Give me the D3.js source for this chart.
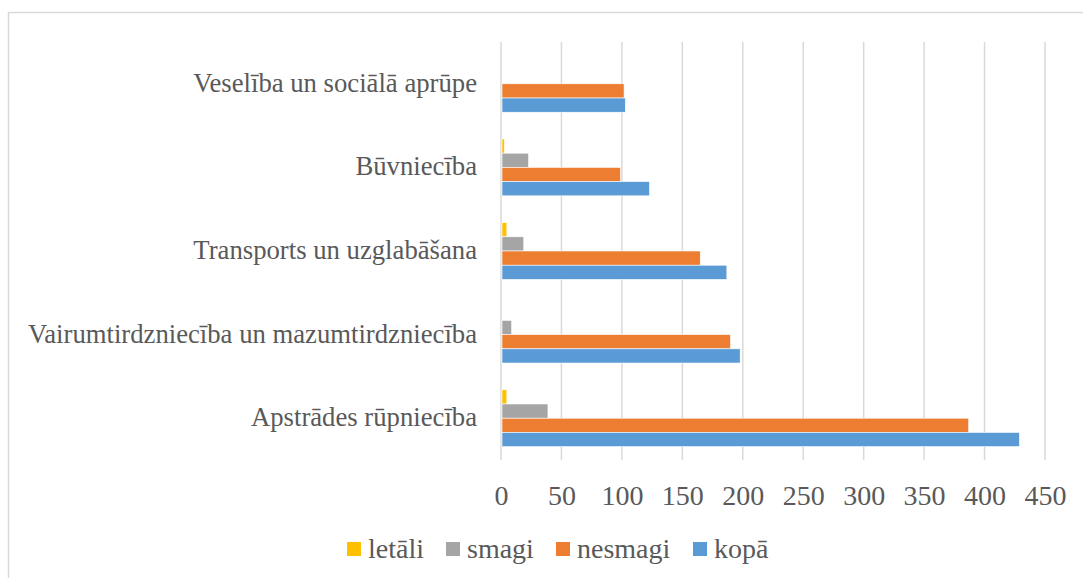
<!DOCTYPE html>
<html>
<head>
<meta charset="utf-8">
<script src="https://cdn.jsdelivr.net/npm/d3@7"></script>
<style>
  body { margin: 0; background: #fff; }
  svg text { font-family: "Liberation Serif", "Times New Roman", serif; fill: #595959; }
</style>
</head>
<body>
<div id="chart"></div>
<script>
// data
let categories = [
    "Veselība un sociālā aprūpe",
    "Būvniecība",
    "Transports un uzglabāšana",
    "Vairumtirdzniecība un mazumtirdzniecība",
    "Apstrādes rūpniecība"
];
let seriesNames = ["letāli", "smagi", "nesmagi", "kopā"];
let seriesColors = ["#FFC000", "#A5A5A5", "#ED7D31", "#5B9BD5"];
let letali = [0, 2, 4, 0, 4];
let smagi = [0, 22, 18, 8, 38];
let nesmagi = [101, 98, 164, 189, 386];
let kopa = [102, 122, 186, 197, 428];
let xTicks = [0, 50, 100, 150, 200, 250, 300, 350, 400, 450];

let width = 1083,
    height = 578;
let serif = "'Liberation Serif', 'Times New Roman', serif";

let svg = d3.select("#chart").append("svg")
    .attr("width", width)
    .attr("height", height);

// outer chart border (runs off the right/bottom edge)
svg.append("rect")
    .attr("x", 8.5)
    .attr("y", 12.5)
    .attr("width", width + 20)
    .attr("height", height + 20)
    .attr("fill", "none")
    .attr("stroke", "#d9d9d9")
    .attr("stroke-width", 1.5);

let seriesValues = [letali, smagi, nesmagi, kopa];

let x = d3.scaleLinear().domain([0, 450]).range([501, 1045]);
let y = d3.scaleBand().domain(categories).range([42, 460])
    .paddingInner(0.32).paddingOuter(0.16);
let ySub = d3.scaleBand().domain(seriesNames).range([0, y.bandwidth()]);

// gridlines
svg.append("g")
    .selectAll("line")
    .data(xTicks)
    .enter().append("line")
    .attr("x1", d => x(d))
    .attr("x2", d => x(d))
    .attr("y1", 42)
    .attr("y2", 460)
    .attr("stroke", "#d9d9d9")
    .attr("stroke-width", 1.5);

// bars
let groups = svg.selectAll(".group")
    .data(categories)
    .enter().append("g")
    .attr("class", "group")
    .attr("transform", d => "translate(0," + y(d) + ")");

groups.selectAll("rect")
    .data((c, i) => seriesNames.map((s, j) => ({series: s, color: seriesColors[j], value: seriesValues[j][i]})))
    .enter().append("rect")
    .attr("x", x(0) + 1)
    .attr("y", d => ySub(d.series))
    .attr("width", d => Math.max(0, x(d.value) - x(0)))
    .attr("height", ySub.bandwidth())
    .attr("fill", d => d.color)
    .attr("stroke", "#fff")
    .attr("stroke-width", 0.6);

// category labels
svg.append("g")
    .selectAll("text")
    .data(categories)
    .enter().append("text")
    .attr("x", 477)
    .attr("y", d => y(d) + y.bandwidth() / 2)
    .attr("dy", "0.3em")
    .attr("text-anchor", "end")
    .style("font-family", serif)
    .style("font-size", "26.7px")
    .text(d => d);

// x tick labels
let xAxis = svg.append("g")
    .attr("transform", "translate(0,460)")
    .call(d3.axisBottom(x).tickValues(xTicks).tickSize(0).tickPadding(25));
xAxis.select(".domain").remove();
xAxis.selectAll("text")
    .style("font-size", "28px")
    .style("font-family", serif)
    .attr("fill", "#595959");

// legend
let legendX = [347, 446, 556, 693];
let legend = svg.append("g")
    .selectAll("g")
    .data(seriesNames)
    .enter().append("g")
    .attr("transform", (d, i) => "translate(" + legendX[i] + ",542)");

legend.append("rect")
    .attr("width", 14)
    .attr("height", 14)
    .attr("fill", (d, i) => seriesColors[i]);

legend.append("text")
    .attr("x", 21)
    .attr("y", 7)
    .attr("dy", "0.33em")
    .style("font-family", serif)
    .style("font-size", "28px")
    .text(d => d);
</script>
</body>
</html>
